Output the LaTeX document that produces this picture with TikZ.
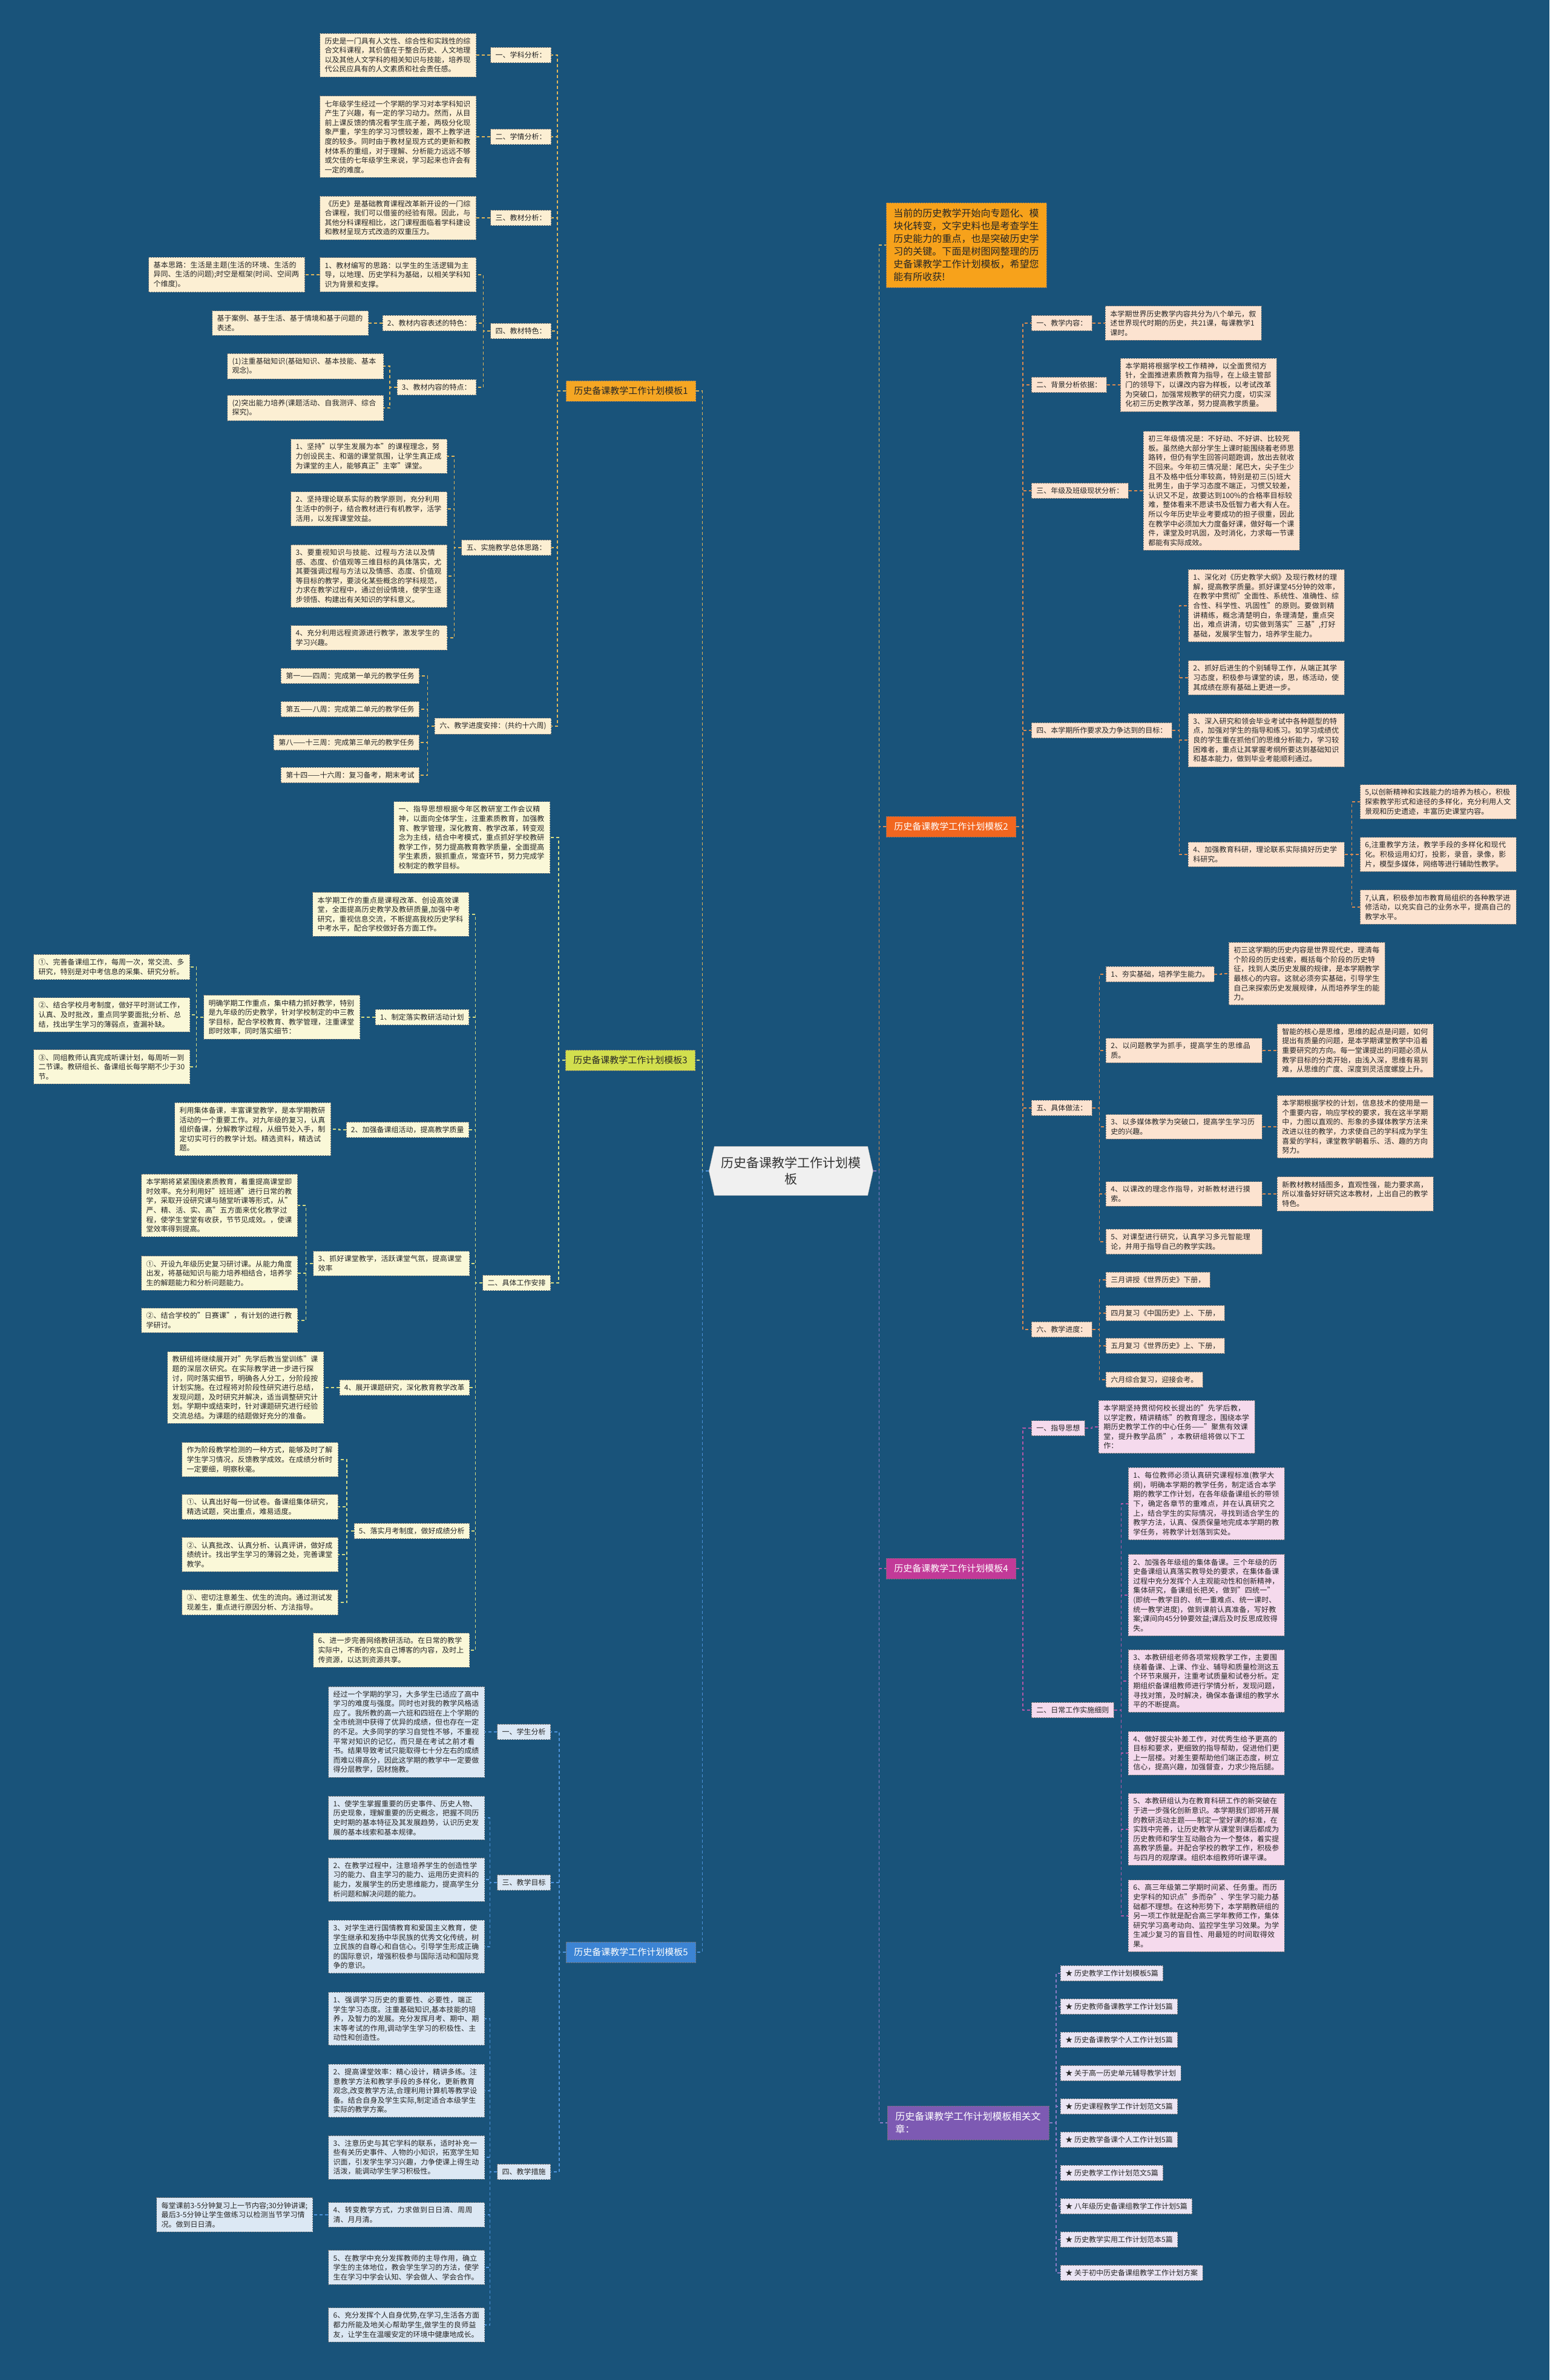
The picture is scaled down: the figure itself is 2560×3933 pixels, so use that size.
\documentclass[tikz,border=0pt]{standalone}
\usepackage{fontspec}
\setmainfont{Noto Sans CJK SC}
\XeTeXlinebreaklocale "zh"
\XeTeXlinebreakskip=0pt plus 1pt
\usetikzlibrary{backgrounds}

\definecolor{bgblue}{HTML}{19537A}
\definecolor{c1}{HTML}{F5A623}
\definecolor{c1l}{HTML}{FCEFD3}
\definecolor{c1k}{HTML}{E1B65A}
\definecolor{c3}{HTML}{D2DF4E}
\definecolor{c3l}{HTML}{FAF8D8}
\definecolor{c3k}{HTML}{D5DC83}
\definecolor{c5}{HTML}{3C84D4}
\definecolor{c5l}{HTML}{DCE8F4}
\definecolor{c5k}{HTML}{4C92DA}
\definecolor{c2}{HTML}{F2661F}
\definecolor{c2l}{HTML}{FCE3D0}
\definecolor{c2k}{HTML}{DA8A50}
\definecolor{c4}{HTML}{C23A98}
\definecolor{c4l}{HTML}{F5DAED}
\definecolor{c4k}{HTML}{B558A8}
\definecolor{cr}{HTML}{7D5AB3}
\definecolor{crl}{HTML}{EBE5F4}
\definecolor{crk}{HTML}{8C7CC6}
\definecolor{cin}{HTML}{F7A21B}
\definecolor{cc}{HTML}{F0F0F0}

\tikzset{
  box/.style={draw=black!55, dash pattern=on 2.5pt off 1.5pt, line width=0.8pt,
    inner xsep=8pt, inner ysep=7pt, text=black!85, align=left,
    font=\fontsize{12}{15.6}\selectfont},
  leaf/.style={box, text width=242pt},
  tag/.style={box},
  branch/.style={box, inner xsep=13pt, inner ysep=10pt, font=\fontsize{15}{19}\selectfont},
  centre/.style={font=\fontsize{21}{27}\selectfont, text=black!80, text width=240pt,
    align=center, minimum width=271pt, minimum height=81pt, inner sep=0pt},
  lk/.style={dash pattern=on 5pt off 4pt, line width=1.5pt}
}

\begin{document}
\begin{tikzpicture}[x=1pt,y=-1pt]
\useasboundingbox (0,0) rectangle (2560,3933);
\begin{scope}[on background layer]
  \fill[bgblue] (0,0) rectangle (2560,3933);
\end{scope}

\node[centre] (c) at (1307,1935) {历史备课教学工作计划模\\板};
\begin{scope}[on background layer]
  \fill[cc, draw=black!35] ([xshift=9pt]c.north west) -- ([xshift=-9pt]c.north east) -- (c.east)
    -- ([xshift=-9pt]c.south east) -- ([xshift=9pt]c.south west) -- (c.west) -- cycle;
\end{scope}

\node[branch, fill=c1, anchor=east] (t1) at (1150,646) {历史备课教学工作计划模板1};
\node[branch, fill=c3, anchor=east] (t3) at (1149,1752) {历史备课教学工作计划模板3};
\node[branch, fill=c5, text=white, anchor=east] (t5) at (1150,3226) {历史备课教学工作计划模板5};
\node[branch, fill=c2, text=white, anchor=west] (t2) at (1464,1366) {历史备课教学工作计划模板2};
\node[branch, fill=c4, text=white, anchor=west] (t4) at (1464,2592) {历史备课教学工作计划模板4};
\node[branch, fill=cr, text=white, anchor=west, text width=241pt, font=\fontsize{16}{21}\selectfont] (rel) at (1466,3508) {历史备课教学工作计划模板相关文章：};
\node[branch, fill=cin, anchor=west, text width=241pt, inner xsep=12pt, font=\fontsize{16}{21}\selectfont] (in) at (1464,405) {当前的历史教学开始向专题化、模块化转变，文字史料也是考查学生历史能力的重点，也是突破历史学习的关键。下面是树图网整理的历史备课教学工作计划模板，希望您能有所收获!};

\begin{scope}[every node/.style={fill=c1l}]
  \node[tag, anchor=east] (t1h1) at (911,91) {一、学科分析：};
  \node[leaf, anchor=east] (t1l1) at (787,91) {历史是一门具有人文性、综合性和实践性的综合文科课程，其价值在于整合历史、人文地理以及其他人文学科的相关知识与技能，培养现代公民应具有的人文素质和社会责任感。};
  \node[tag, anchor=east] (t1h2) at (911,226) {二、学情分析：};
  \node[leaf, anchor=east] (t1l2) at (787,226) {七年级学生经过一个学期的学习对本学科知识产生了兴趣，有一定的学习动力。然而，从目前上课反馈的情况看学生底子差，两极分化现象严重，学生的学习习惯较差，跟不上教学进度的较多。同时由于教材呈现方式的更新和教材体系的重组，对于理解、分析能力远远不够或欠佳的七年级学生来说，学习起来也许会有一定的难度。};
  \node[tag, anchor=east] (t1h3) at (911,360) {三、教材分析：};
  \node[leaf, anchor=east] (t1l3) at (787,360) {《历史》是基础教育课程改革新开设的一门综合课程，我们可以借鉴的经验有限。因此，与其他分科课程相比，这门课程面临着学科建设和教材呈现方式改造的双重压力。};
  \node[tag, anchor=east] (t1h4) at (911,547) {四、教材特色：};
  \node[leaf, anchor=east] (t1s1) at (787,454) {1、教材编写的思路：以学生的生活逻辑为主导，以地理、历史学科为基础，以相关学科知识为背景和支撑。};
  \node[leaf, anchor=east] (t1s1a) at (504,454) {基本思路：生活是主题(生活的环境、生活的异同、生活的问题);时空是框架(时间、空间两个维度)。};
  \node[tag, anchor=east] (t1s2) at (787,534) {2、教材内容表述的特色：};
  \node[leaf, anchor=east] (t1s2a) at (609,534) {基于案例、基于生活、基于情境和基于问题的表述。};
  \node[tag, anchor=east] (t1s3) at (787,640) {3、教材内容的特点：};
  \node[leaf, anchor=east] (t1s3a) at (634,605) {(1)注重基础知识(基础知识、基本技能、基本观念)。};
  \node[leaf, anchor=east] (t1s3b) at (634,674) {(2)突出能力培养(课题活动、自我测评、综合探究)。};
  \node[tag, anchor=east] (t1h5) at (911,905) {五、实施教学总体思路：};
  \node[leaf, anchor=east] (t1p1) at (739,754) {1、坚持"以学生发展为本"的课程理念，努力创设民主、和谐的课堂氛围，让学生真正成为课堂的主人，能够真正"主宰"课堂。};
  \node[leaf, anchor=east] (t1p2) at (739,841) {2、坚持理论联系实际的教学原则，充分利用生活中的例子，结合教材进行有机教学，活学活用，以发挥课堂效益。};
  \node[leaf, anchor=east] (t1p3) at (739,952) {3、要重视知识与技能、过程与方法以及情感、态度、价值观等三维目标的具体落实，尤其要强调过程与方法以及情感、态度、价值观等目标的教学，要淡化某些概念的学科规范，力求在教学过程中，通过创设情境，使学生逐步领悟、构建出有关知识的学科意义。};
  \node[leaf, anchor=east] (t1p4) at (739,1054) {4、充分利用远程资源进行教学，激发学生的学习兴趣。};
  \node[tag, anchor=east] (t1h6) at (911,1200) {六、教学进度安排：(共约十六周)};
  \node[tag, anchor=east] (t1w1) at (693,1117) {第一——四周：完成第一单元的教学任务};
  \node[tag, anchor=east] (t1w2) at (693,1172) {第五——八周：完成第二单元的教学任务};
  \node[tag, anchor=east] (t1w3) at (693,1227) {第八——十三周：完成第三单元的教学任务};
  \node[tag, anchor=east] (t1w4) at (693,1281) {第十四——十六周：复习备考，期末考试};
\end{scope}

\begin{scope}[every node/.style={fill=c3l}]
  \node[leaf, anchor=east] (t3l1) at (909,1384) {一、指导思想根据今年区教研室工作会议精神，以面向全体学生，注重素质教育，加强教育、教学管理，深化教育、教学改革，转变观念为主线，结合中考模式，重点抓好学校教研教学工作，努力提高教育教学质量，全面提高学生素质，狠抓重点，常查环节，努力完成学校制定的教学目标。};
  \node[tag, anchor=east] (t3h2) at (910,2120) {二、具体工作安排};
  \node[leaf, anchor=east] (t3l2) at (775,1511) {本学期工作的重点是课程改革、创设高效课堂，全面提高历史教学及教研质量,加强中考研究，重视信息交流，不断提高我校历史学科中考水平，配合学校做好各方面工作。};
  \node[tag, anchor=east] (t3s1) at (775,1681) {1、制定落实教研活动计划};
  \node[leaf, anchor=east] (t3m) at (595,1681) {明确学期工作重点，集中精力抓好教学，特别是九年级的历史教学，针对学校制定的中三教学目标，配合学校教育、教学管理，注重课堂即时效率，同时落实细节：};
  \node[leaf, anchor=east] (t3m1) at (314,1598) {①、完善备课组工作，每周一次，常交流、多研究，特别是对中考信息的采集、研究分析。};
  \node[leaf, anchor=east] (t3m2) at (314,1677) {②、结合学校月考制度，做好平时测试工作，认真、及时批改，重点同学要面批;分析、总结，找出学生学习的薄弱点，查漏补缺。};
  \node[leaf, anchor=east] (t3m3) at (314,1763) {③、同组教师认真完成听课计划，每周听一到二节课。教研组长、备课组长每学期不少于30节。};
  \node[tag, anchor=east] (t3s2) at (775,1867) {2、加强备课组活动，提高教学质量};
  \node[leaf, anchor=east] (t3s2a) at (547,1866) {利用集体备课，丰富课堂教学，是本学期教研活动的一个重要工作。对九年级的复习，认真组织备课，分解教学过程，从细节处入手，制定切实可行的教学计划。精选资料，精选试题。};
  \node[leaf, anchor=east] (t3s3) at (776,2088) {3、抓好课堂教学，活跃课堂气氛，提高课堂效率};
  \node[leaf, anchor=east] (t3s3a) at (492,1992) {本学期将紧紧围绕素质教育，着重提高课堂即时效率。充分利用好"班班通"进行日常的教学，采取开设研究课与随堂听课等形式，从"严、精、活、实、高"五方面来优化教学过程，使学生堂堂有收获，节节见成效。，使课堂效率得到提高。};
  \node[leaf, anchor=east] (t3s3b) at (492,2104) {①、开设九年级历史复习研讨课。从能力角度出发，将基础知识与能力培养相结合，培养学生的解题能力和分析问题能力。};
  \node[leaf, anchor=east] (t3s3c) at (492,2182) {②、结合学校的"日赛课"，有计划的进行教学研讨。};
  \node[tag, anchor=east] (t3s4) at (776,2293) {4、展开课题研究，深化教育教学改革};
  \node[leaf, anchor=east] (t3s4a) at (535,2293) {教研组将继续展开对"先学后教当堂训练"课题的深层次研究。在实际教学进一步进行探讨，同时落实细节，明确各人分工，分阶段按计划实施。在过程将对阶段性研究进行总结，发现问题，及时研究并解决，适当调整研究计划。学期中或结束时，针对课题研究进行经验交流总结。为课题的结题做好充分的准备。};
  \node[tag, anchor=east] (t3s5) at (776,2530) {5、落实月考制度，做好成绩分析};
  \node[leaf, anchor=east] (t3s5a) at (559,2412) {作为阶段教学检测的一种方式，能够及时了解学生学习情况，反馈教学成效。在成绩分析时一定要细，明察秋毫。};
  \node[leaf, anchor=east] (t3s5b) at (559,2490) {①、认真出好每一份试卷。备课组集体研究，精选试题，突出重点，难易适度。};
  \node[leaf, anchor=east] (t3s5c) at (559,2569) {②、认真批改、认真分析、认真评讲，做好成绩统计。找出学生学习的薄弱之处，完善课堂教学。};
  \node[leaf, anchor=east] (t3s5d) at (559,2648) {③、密切注意差生、优生的流向。通过测试发现差生，重点进行原因分析、方法指导。};
  \node[leaf, anchor=east] (t3l6) at (776,2727) {6、进一步完善网络教研活动。在日常的教学实际中，不断的充实自己博客的内容，及时上传资源，以达到资源共享。};
\end{scope}

\begin{scope}[every node/.style={fill=c5l}]
  \node[tag, anchor=east] (t5h1) at (910,2862) {一、学生分析};
  \node[leaf, anchor=east] (t5l1) at (801,2862) {经过一个学期的学习，大多学生已适应了高中学习的难度与强度。同时也对我的教学风格适应了。我所教的高一六班和四班在上个学期的全市统测中获得了优异的成绩，但也存在一定的不足。大多同学的学习自觉性不够，不重视平常对知识的记忆，而只是在考试之前才看书。结果导致考试只能取得七十分左右的成绩而难以得高分，因此这学期的教学中一定要做得分层教学，因材施教。};
  \node[tag, anchor=east] (t5h3) at (910,3111) {三、教学目标};
  \node[leaf, anchor=east] (t5g1) at (801,3004) {1、使学生掌握重要的历史事件、历史人物、历史现象，理解重要的历史概念，把握不同历史时期的基本特征及其发展趋势，认识历史发展的基本线索和基本规律。};
  \node[leaf, anchor=east] (t5g2) at (801,3106) {2、在教学过程中，注意培养学生的创造性学习的能力、自主学习的能力、运用历史资料的能力，发展学生的历史思维能力，提高学生分析问题和解决问题的能力。};
  \node[leaf, anchor=east] (t5g3) at (801,3217) {3、对学生进行国情教育和爱国主义教育，使学生继承和发扬中华民族的优秀文化传统，树立民族的自尊心和自信心。引导学生形成正确的国际意识，增强积极参与国际活动和国际竞争的意识。};
  \node[tag, anchor=east] (t5h4) at (910,3589) {四、教学措施};
  \node[leaf, anchor=east] (t5m1) at (801,3336) {1、强调学习历史的重要性、必要性，端正学生学习态度。注重基础知识,基本技能的培养，及智力的发展。充分发挥月考、期中、期末等考试的作用,调动学生学习的积极性、主动性和创造性。};
  \node[leaf, anchor=east] (t5m2) at (801,3455) {2、提高课堂效率：精心设计，精讲多练。注意教学方法和教学手段的多样化，更新教育观念,改变教学方法,合理利用计算机等教学设备。结合自身及学生实际,制定适合本级学生实际的教学方案。};
  \node[leaf, anchor=east] (t5m3) at (801,3565) {3、注意历史与其它学科的联系，适时补充一些有关历史事件、人物的小知识，拓宽学生知识面，引发学生学习兴趣，力争使课上得生动活泼，能调动学生学习积极性。};
  \node[leaf, anchor=east] (t5m4) at (801,3660) {4、转变教学方式，力求做到日日清、周周清、月月清。};
  \node[leaf, anchor=east] (t5m4a) at (517,3660) {每堂课前3-5分钟复习上一节内容;30分钟讲课;最后3-5分钟让学生做练习以检测当节学习情况。做到日日清。};
  \node[leaf, anchor=east] (t5m5) at (801,3747) {5、在教学中充分发挥教师的主导作用，确立学生的主体地位，教会学生学习的方法，使学生在学习中学会认知、学会做人、学会合作。};
  \node[leaf, anchor=east] (t5m6) at (801,3842) {6、充分发挥个人自身优势,在学习,生活各方面都力所能及地关心帮助学生,做学生的良师益友，让学生在温暖安定的环境中健康地成长。};
\end{scope}

\begin{scope}[every node/.style={fill=c2l}]
  \node[tag, anchor=west] (t2h1) at (1704,534) {一、教学内容：};
  \node[leaf, anchor=west] (t2l1) at (1826,534) {本学期世界历史教学内容共分为八个单元，叙述世界现代时期的历史，共21课，每课教学1课时。};
  \node[tag, anchor=west] (t2h2) at (1704,636) {二、背景分析依据：};
  \node[leaf, anchor=west] (t2l2) at (1851,636) {本学期将根据学校工作精神，以全面贯彻方针，全面推进素质教育为指导，在上级主管部门的领导下，以课改内容为样板，以考试改革为突破口，加强常规教学的研究力度，切实深化初三历史教学改革，努力提高教学质量。};
  \node[tag, anchor=west] (t2h3) at (1704,811) {三、年级及班级现状分析：};
  \node[leaf, anchor=west] (t2l3) at (1889,811) {初三年级情况是：不好动、不好讲、比较死板。虽然绝大部分学生上课时能围绕着老师思路转，但仍有学生回答问题跑调，放出去就收不回来。今年初三情况是：尾巴大，尖子生少且不及格中低分率较高，特别是初三(5)班大批男生，由于学习态度不端正，习惯又较差，认识又不足，故要达到100\%的合格率目标较难，整体看来不愿读书及低智力者大有人在。所以今年历史毕业考要成功的担子很重，因此在教学中必须加大力度备好课，做好每一个课件，课堂及时巩固，及时消化，力求每一节课都能有实际成效。};
  \node[tag, anchor=west] (t2h4) at (1704,1207) {四、本学期所作要求及力争达到的目标：};
  \node[leaf, anchor=west] (t2g1) at (1963,1001) {1、深化对《历史教学大纲》及现行教材的理解，提高教学质量。抓好课堂45分钟的效率，在教学中贯彻"全面性、系统性、准确性、综合性、科学性、巩固性"的原则。要做到精讲精练，概念清楚明白，条理清楚，重点突出，难点讲清，切实做到落实"三基",打好基础，发展学生智力，培养学生能力。};
  \node[leaf, anchor=west] (t2g2) at (1963,1120) {2、抓好后进生的个别辅导工作，从端正其学习态度，积极参与课堂的读，思，练活动，使其成绩在原有基础上更进一步。};
  \node[leaf, anchor=west] (t2g3) at (1963,1223) {3、深入研究和领会毕业考试中各种题型的特点，加强对学生的指导和练习。如学习成绩优良的学生重在抓他们的思维分析能力，学习较困难者，重点让其掌握考纲所要达到基础知识和基本能力，做到毕业考能顺利通过。};
  \node[leaf, anchor=west] (t2g4) at (1963,1412) {4、加强教育科研，理论联系实际搞好历史学科研究。};
  \node[leaf, anchor=west] (t2g4a) at (2247,1325) {5,以创新精神和实践能力的培养为核心，积极探索教学形式和途径的多样化，充分利用人文景观和历史遗迹，丰富历史课堂内容。};
  \node[leaf, anchor=west] (t2g4b) at (2247,1412) {6,注重教学方法，教学手段的多样化和现代化。积极运用幻灯，投影，录音，录像，影片，模型多媒体，网络等进行辅助性教学。};
  \node[leaf, anchor=west] (t2g4c) at (2247,1499) {7,认真，积极参加市教育局组织的各种教学进修活动，以充实自己的业务水平，提高自己的教学水平。};
  \node[tag, anchor=west] (t2h5) at (1704,1831) {五、具体做法：};
  \node[tag, anchor=west] (t2d1) at (1827,1610) {1、夯实基础，培养学生能力。};
  \node[leaf, anchor=west] (t2d1a) at (2030,1609) {初三这学期的历史内容是世界现代史，理清每个阶段的历史线索，概括每个阶段的历史特征，找到人类历史发展的规律，是本学期教学最核心的内容。这就必须夯实基础，引导学生自己来探索历史发展规律，从而培养学生的能力。};
  \node[leaf, anchor=west] (t2d2) at (1827,1736) {2、以问题教学为抓手，提高学生的思维品质。};
  \node[leaf, anchor=west] (t2d2a) at (2110,1736) {智能的核心是思维，思维的起点是问题，如何提出有质量的问题，是本学期课堂教学中沿着重要研究的方向。每一堂课提出的问题必须从教学目标的分类开始，由浅入深，思维有易到难，从思维的广度、深度到灵活度螺旋上升。};
  \node[leaf, anchor=west] (t2d3) at (1827,1862) {3、以多媒体教学为突破口，提高学生学习历史的兴趣。};
  \node[leaf, anchor=west] (t2d3a) at (2110,1862) {本学期根据学校的计划，信息技术的使用是一个重要内容，响应学校的要求，我在这半学期中，力图以直观的、形象的多媒体教学方法来改进以往的教学，力求使自己的学科成为学生喜爱的学科，课堂教学朝着乐、活、趣的方向努力。};
  \node[leaf, anchor=west] (t2d4) at (1827,1973) {4、以课改的理念作指导，对新教材进行摸索。};
  \node[leaf, anchor=west] (t2d4a) at (2110,1973) {新教材教材插图多，直观性强，能力要求高，所以准备好好研究这本教材，上出自己的教学特色。};
  \node[leaf, anchor=west] (t2d5) at (1827,2052) {5、对课型进行研究，认真学习多元智能理论，并用于指导自己的教学实践。};
  \node[tag, anchor=west] (t2h6) at (1704,2197) {六、教学进度：};
  \node[tag, anchor=west] (t2w1) at (1827,2115) {三月讲授《世界历史》下册，};
  \node[tag, anchor=west] (t2w2) at (1827,2170) {四月复习《中国历史》上、下册，};
  \node[tag, anchor=west] (t2w3) at (1827,2224) {五月复习《世界历史》上、下册，};
  \node[tag, anchor=west] (t2w4) at (1827,2280) {六月综合复习，迎接会考。};
\end{scope}

\begin{scope}[every node/.style={fill=c4l}]
  \node[tag, anchor=west] (t4h1) at (1704,2360) {一、指导思想};
  \node[leaf, anchor=west] (t4l1) at (1815,2358) {本学期坚持贯彻何校长提出的"先学后教，以学定教，精讲精练"的教育理念，围绕本学期历史教学工作的中心任务——"聚焦有效课堂，提升教学品质"，本教研组将做以下工作：};
  \node[tag, anchor=west] (t4h2) at (1704,2826) {二、日常工作实施细则};
  \node[leaf, anchor=west] (t4r1) at (1864,2485) {1、每位教师必须认真研究课程标准(教学大纲)，明确本学期的教学任务，制定适合本学期的教学工作计划，在各年级备课组长的带领下，确定各章节的重难点，并在认真研究之上，结合学生的实际情况，寻找到适合学生的教学方法，认真、保质保量地完成本学期的教学任务，将教学计划落到实处。};
  \node[leaf, anchor=west] (t4r2) at (1864,2636) {2、加强各年级组的集体备课。三个年级的历史备课组认真落实教导处的要求，在集体备课过程中充分发挥个人主观能动性和创新精神，集体研究，备课组长把关，做到"四统一"(即统一教学目的、统一重难点、统一课时、统一教学进度)，做到课前认真准备，写好教案;课间向45分钟要效益;课后及时反思成败得失。};
  \node[leaf, anchor=west] (t4r3) at (1864,2778) {3、本教研组老师各项常规教学工作，主要围绕着备课、上课、作业、辅导和质量检测这五个环节来展开，注重考试质量和试卷分析。定期组织备课组教师进行学情分析，发现问题，寻找对策，及时解决，确保本备课组的教学水平的不断提高。};
  \node[leaf, anchor=west] (t4r4) at (1864,2897) {4、做好拔尖补差工作，对优秀生给予更高的目标和要求，更细致的指导帮助，促进他们更上一层楼。对差生要帮助他们端正态度，树立信心，提高兴趣，加强督查，力求少拖后腿。};
  \node[leaf, anchor=west] (t4r5) at (1864,3023) {5、本教研组认为在教育科研工作的新突破在于进一步强化创新意识。本学期我们即将开展的教研活动主题——制定一堂好课的标准，在实践中完善，让历史教学从课堂到课后都成为历史教师和学生互动融合为一个整体，着实提高教学质量。并配合学校的教学工作，积极参与四月的观摩课。组织本组教师听课平课。};
  \node[leaf, anchor=west] (t4r6) at (1864,3166) {6、高三年级第二学期时间紧、任务重。而历史学科的知识点"多而杂"、学生学习能力基础都不理想。在这种形势下，本学期教研组的另一项工作就是配合高三学年教师工作，集体研究学习高考动向、监控学生学习效果。为学生减少复习的盲目性、用最短的时间取得效果。};
\end{scope}

\begin{scope}[every node/.style={fill=crl}]
  \node[tag, anchor=west] (r1) at (1752,3261) {★ 历史教学工作计划模板5篇};
  \node[tag, anchor=west] (r2) at (1752,3316) {★ 历史教师备课教学工作计划5篇};
  \node[tag, anchor=west] (r3) at (1752,3371) {★ 历史备课教学个人工作计划5篇};
  \node[tag, anchor=west] (r4) at (1752,3426) {★ 关于高一历史单元辅导教学计划};
  \node[tag, anchor=west] (r5) at (1752,3481) {★ 历史课程教学工作计划范文5篇};
  \node[tag, anchor=west] (r6) at (1752,3536) {★ 历史教学备课个人工作计划5篇};
  \node[tag, anchor=west] (r7) at (1752,3591) {★ 历史教学工作计划范文5篇};
  \node[tag, anchor=west] (r8) at (1752,3646) {★ 八年级历史备课组教学工作计划5篇};
  \node[tag, anchor=west] (r9) at (1752,3701) {★ 历史教学实用工作计划范本5篇};
  \node[tag, anchor=west] (r10) at (1752,3756) {★ 关于初中历史备课组教学工作计划方案};
\end{scope}

\begin{scope}[lk, draw=c1k]
  \draw (c.east) -- ++(10,0) |- (in.west);
  \draw (c.west) -- ++(-11,0) |- (t1.east);
  \foreach \h in {t1h1,t1h2,t1h3,t1h4,t1h5,t1h6}
    {\draw (t1.west) -- ++(-14,0) |- (\h.east);}
  \foreach \p/\q in {t1h1/t1l1,t1h2/t1l2,t1h3/t1l3,t1h4/t1s1,t1h4/t1s2,t1h4/t1s3,t1s1/t1s1a,t1s2/t1s2a,t1s3/t1s3a,t1s3/t1s3b,t1h5/t1p1,t1h5/t1p2,t1h5/t1p3,t1h5/t1p4,t1h6/t1w1,t1h6/t1w2,t1h6/t1w3,t1h6/t1w4}
    {\draw (\p.west) -- ++(-11.5,0) |- (\q.east);}
\end{scope}

\begin{scope}[lk, draw=c3k]
  \draw (c.west) -- ++(-11,0) |- (t3.east);
  \foreach \h in {t3l1,t3h2}
    {\draw (t3.west) -- ++(-11,0) |- (\h.east);}
  \foreach \p/\q in {t3h2/t3l2,t3h2/t3s1,t3h2/t3s2,t3h2/t3s3,t3h2/t3s4,t3h2/t3s5,t3h2/t3l6,t3s1/t3m,t3m/t3m1,t3m/t3m2,t3m/t3m3,t3s2/t3s2a,t3s3/t3s3a,t3s3/t3s3b,t3s3/t3s3c,t3s4/t3s4a,t3s5/t3s5a,t3s5/t3s5b,t3s5/t3s5c,t3s5/t3s5d}
    {\draw (\p.west) -- ++(-11.5,0) |- (\q.east);}
\end{scope}

\begin{scope}[lk, draw=c5k]
  \draw (c.west) -- ++(-11,0) |- (t5.east);
  \foreach \h in {t5h1,t5h3,t5h4}
    {\draw (t5.west) -- ++(-11,0) |- (\h.east);}
  \foreach \p/\q in {t5h1/t5l1,t5h3/t5g1,t5h3/t5g2,t5h3/t5g3,t5h4/t5m1,t5h4/t5m2,t5h4/t5m3,t5h4/t5m4,t5h4/t5m5,t5h4/t5m6,t5m4/t5m4a}
    {\draw (\p.west) -- ++(-11.5,0) |- (\q.east);}
\end{scope}

\begin{scope}[lk, draw=c2k]
  \draw (c.east) -- ++(10,0) |- (t2.west);
  \foreach \h in {t2h1,t2h2,t2h3,t2h4,t2h5,t2h6}
    {\draw (t2.east) -- ++(11,0) |- (\h.west);}
  \foreach \p/\q in {t2h1/t2l1,t2h2/t2l2,t2h3/t2l3,t2h4/t2g1,t2h4/t2g2,t2h4/t2g3,t2h4/t2g4,t2g4/t2g4a,t2g4/t2g4b,t2g4/t2g4c,t2h5/t2d1,t2h5/t2d2,t2h5/t2d3,t2h5/t2d4,t2h5/t2d5,t2d1/t2d1a,t2d2/t2d2a,t2d3/t2d3a,t2d4/t2d4a,t2h6/t2w1,t2h6/t2w2,t2h6/t2w3,t2h6/t2w4}
    {\draw (\p.east) -- ++(11.5,0) |- (\q.west);}
\end{scope}

\begin{scope}[lk, draw=c4k]
  \draw (c.east) -- ++(10,0) |- (t4.west);
  \foreach \h in {t4h1,t4h2}
    {\draw (t4.east) -- ++(11,0) |- (\h.west);}
  \foreach \p/\q in {t4h1/t4l1,t4h2/t4r1,t4h2/t4r2,t4h2/t4r3,t4h2/t4r4,t4h2/t4r5,t4h2/t4r6}
    {\draw (\p.east) -- ++(11.5,0) |- (\q.west);}
\end{scope}

\begin{scope}[lk, draw=crk]
  \draw (c.east) -- ++(10,0) |- (rel.west);
  \foreach \i in {1,...,10}
    {\draw (rel.east) -- ++(11,0) |- (r\i.west);}
\end{scope}
\end{tikzpicture}
\end{document}
